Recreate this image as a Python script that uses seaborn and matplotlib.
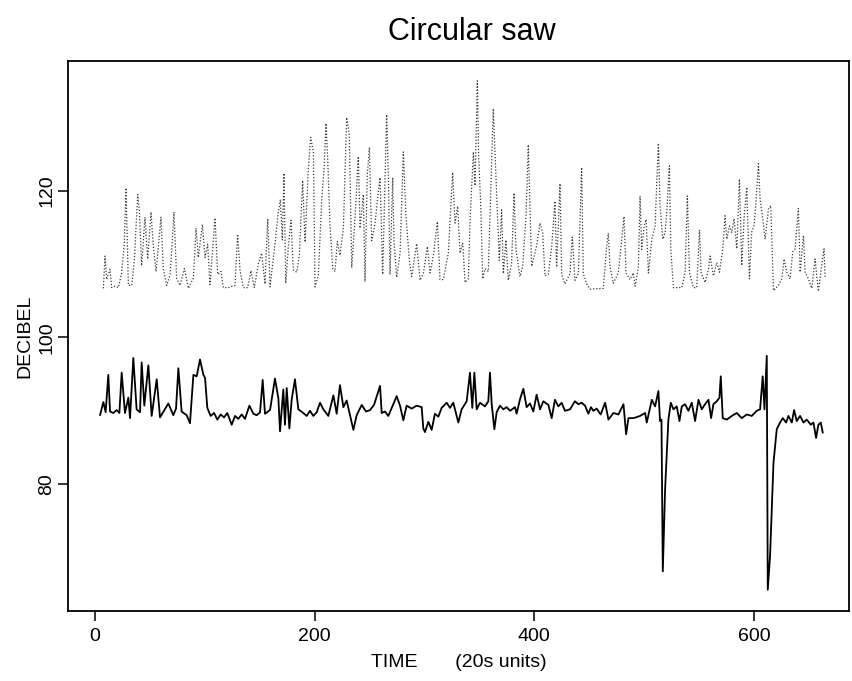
import matplotlib
matplotlib.use("Agg")
import matplotlib.pyplot as plt
import pandas as pd
import seaborn as sns

# lower trace (solid): time in 20s units, level in decibel
low_time = [4.6, 7.6, 9.7, 12.1, 13.7, 16.7, 19.7, 22.2, 24.3, 27.3, 30.4, 31.9, 34.9, 37.9,
            41.0, 42.5, 44.9, 48.6, 51.6, 56.2, 59.2, 62.8, 66.8, 71.3, 73.8, 75.9, 78.9, 83.5,
            86.5, 89.6, 92.6, 95.6, 98.7, 100.2, 102.3, 105.3, 108.4, 111.4, 114.5, 117.5, 120.5,
            124.5, 127.5, 130.5, 133.6, 136.6, 140.6, 144.2, 147.2, 150.3, 152.7, 154.8, 159.4,
            163.9, 167.0, 168.5, 171.5, 173.0, 174.6, 177.0, 179.1, 182.1, 185.2, 189.7, 192.8,
            195.8, 198.8, 201.9, 204.9, 208.0, 212.5, 217.1, 220.1, 223.1, 226.2, 229.2, 232.2,
            235.3, 238.3, 242.9, 246.8, 250.5, 254.1, 259.6, 261.1, 264.1, 267.1, 271.7, 274.7,
            277.8, 280.8, 283.8, 288.4, 292.9, 297.5, 299.0, 300.5, 303.6, 306.6, 309.6, 312.7,
            315.7, 320.3, 323.3, 326.3, 330.9, 333.9, 338.5, 341.5, 343.6, 345.5, 347.6, 350.6,
            355.2, 358.2, 359.7, 361.3, 363.7, 365.8, 368.8, 371.9, 374.9, 378.0, 382.5, 384.0,
            387.1, 390.1, 393.1, 396.2, 399.2, 402.2, 405.3, 408.3, 412.9, 415.9, 418.9, 422.0,
            425.0, 428.0, 432.6, 437.1, 440.2, 443.2, 446.3, 449.3, 451.7, 453.8, 456.9, 460.5,
            464.6, 467.6, 472.1, 476.7, 481.3, 483.7, 485.8, 490.4, 496.4, 501.0, 502.5, 507.1,
            510.1, 513.1, 514.6, 515.9, 517.1, 519.2, 522.2, 524.4, 526.8, 529.8, 532.3, 534.4,
            537.4, 540.4, 543.5, 546.5, 549.6, 552.6, 555.6, 558.7, 561.1, 563.2, 566.3, 568.7,
            569.9, 571.7, 575.4, 579.9, 584.5, 589.0, 593.6, 598.1, 602.7, 605.7, 608.1, 609.7,
            611.8, 612.7, 614.8, 617.9, 620.9, 623.9, 626.4, 629.4, 631.5, 634.6, 636.7, 639.1,
            642.1, 645.2, 648.2, 651.9, 654.3, 656.7, 658.8, 661.0, 662.8]
low_db = [89.4, 91.2, 89.8, 94.9, 89.9, 89.7, 90.1, 89.7, 95.2, 89.7, 91.8, 89.0, 97.2, 90.2,
          89.8, 96.6, 90.7, 96.2, 89.3, 94.3, 89.1, 90.0, 91.0, 89.4, 90.3, 95.8, 89.9, 89.4,
          88.3, 94.9, 94.7, 97.0, 94.9, 94.5, 90.4, 89.3, 89.7, 88.8, 89.5, 89.1, 89.7,
          88.1, 89.3, 88.9, 89.5, 88.9, 90.7, 89.6, 89.4, 89.8, 94.2, 89.6, 90.1,
          94.4, 91.7, 87.2, 92.9, 88.1, 93.1, 87.6, 91.5, 94.3, 90.2, 89.7, 89.3,
          90.0, 89.3, 89.8, 91.1, 90.2, 89.3, 92.1, 89.6, 93.5, 90.5, 91.4, 89.4,
          87.4, 89.4, 90.8, 89.9, 90.1, 90.8, 93.4, 89.7, 89.9, 89.3, 90.9, 92.0,
          90.7, 88.7, 90.7, 90.3, 90.7, 90.5, 87.6, 87.1, 88.5, 87.4, 89.6, 89.2,
          90.4, 91.1, 90.4, 91.1, 88.4, 90.2, 91.3, 95.2, 90.4, 95.2, 90.2, 91.1,
          90.6, 91.3, 95.2, 90.9, 87.5, 89.8, 90.7, 90.2, 90.5, 90.0, 90.5, 89.6,
          91.6, 93.0, 90.5, 91.0, 89.9, 92.2, 90.2, 91.3, 90.8, 89.0, 91.5, 90.6,
          91.1, 90.0, 90.2, 91.3, 90.9, 91.1, 90.7, 89.6, 90.5, 90.0, 90.3, 89.5,
          91.1, 88.8, 89.7, 89.5, 90.9, 86.8, 89.0, 89.0, 89.3, 89.7, 88.4, 91.5,
          90.6, 92.7, 88.6, 88.8, 68.1, 79.3, 88.8, 91.1, 90.2, 90.6, 88.6, 90.6,
          90.9, 90.0, 91.1, 88.6, 91.5, 90.2, 90.9, 91.5, 89.0, 90.9, 91.3, 91.8,
          94.7, 89.0, 88.8, 89.3, 89.7, 89.0, 89.5, 89.3, 90.0, 90.2, 94.7, 90.2,
          97.5, 65.6, 70.2, 82.9, 87.5, 88.4, 89.0, 88.4, 89.3, 88.4, 90.1, 88.6,
          89.3, 88.4, 88.8, 88.1, 88.4, 86.3, 88.1, 88.4, 87.0]

# upper trace (dotted)
up_time = [7.6, 9.1, 10.6, 13.7, 15.2, 18.2, 21.3, 24.3, 26.7, 28.2, 30.4, 33.4, 35.8, 38.9,
           40.4, 42.5, 45.5, 48.0, 51.0, 53.1, 55.6, 57.7, 60.1, 62.2, 65.3, 68.3, 69.8, 71.9,
           74.4, 77.4, 81.4, 85.0, 89.6, 92.0, 94.1, 97.8, 100.2, 102.6, 104.7, 109.3, 111.7,
           114.8, 116.9, 121.4, 127.5, 129.9, 132.1, 135.1, 139.0, 142.1, 145.1, 148.8, 151.8,
           154.8, 157.3, 159.4, 163.9, 166.4, 168.8, 170.6, 172.1, 173.7, 176.1, 178.5, 180.6,
           183.7, 186.1, 189.1, 191.3, 194.3, 196.4, 198.9, 200.4, 203.4, 206.4, 208.6, 210.4,
           211.9, 214.0, 216.5, 218.6, 220.7, 223.1, 226.2, 229.2, 231.6, 233.8, 236.8, 239.8,
           241.4, 244.4, 245.9, 248.0, 249.9, 252.0, 255.0, 257.1, 259.6, 262.0, 264.1, 265.6,
           267.2, 268.7, 271.1, 272.3, 274.7, 277.8, 280.8, 283.2, 286.3, 288.4, 293.0, 296.0,
           299.0, 302.7, 305.1, 308.1, 311.8, 314.2, 317.2, 321.8, 325.7, 327.9, 330.3, 332.4,
           334.9, 337.0, 340.0, 341.5, 344.6, 346.1, 348.2, 349.4, 351.3, 353.1, 355.2, 358.2,
           362.7, 365.8, 368.2, 370.3, 371.9, 374.3, 376.4, 379.4, 381.6, 383.4, 387.0, 389.5,
           392.5, 394.6, 396.1, 397.7, 402.2, 405.3, 407.7, 409.8, 412.8, 415.9, 418.9, 420.4,
           423.5, 425.0, 428.0, 432.6, 434.7, 437.1, 440.2, 443.2, 444.7, 447.8, 450.8, 462.9,
           466.0, 467.5, 469.0, 472.0, 476.6, 479.6, 481.8, 483.6, 487.2, 490.3, 491.9, 494.9,
           496.4, 497.9, 500.1, 501.9, 504.0, 507.1, 510.1, 511.6, 513.1, 514.6, 517.1, 519.2,
           520.7, 523.1, 524.4, 526.8, 534.4, 537.4, 539.5, 541.4, 545.0, 548.0, 550.5, 552.0,
           555.6, 558.7, 560.2, 563.2, 566.3, 568.7, 571.7, 573.8, 575.4, 577.8, 579.9, 582.0,
           584.5, 586.9, 589.0, 591.1, 593.6, 596.0, 598.1, 600.3, 602.1, 604.2, 605.7, 608.1,
           610.3, 613.3, 615.4, 617.9, 622.4, 625.5, 627.6, 630.0, 633.0, 635.5, 637.6, 640.6,
           642.2, 645.2, 646.7, 649.7, 652.8, 655.8, 658.8, 661.9, 664.0, 664.9]
up_db = [106.7, 111.1, 107.9, 109.3, 106.8, 107.0, 106.8, 108.8, 112.9, 120.4, 107.1, 107.1, 110.5, 119.5,
         117.3, 109.8, 116.4, 110.7, 117.1, 112.5, 109.0, 112.5, 116.4, 109.4, 107.1, 108.5, 111.7, 117.1,
         108.0, 107.1, 109.4, 106.7, 108.1, 114.9, 110.9, 115.4, 110.9, 112.7, 107.2, 116.3, 108.6,
         109.0, 106.8, 106.8, 107.1, 114.1, 109.1, 106.8, 106.8, 109.1, 106.8, 110.1, 111.5,
         107.3, 116.2, 106.9, 112.7, 116.5, 118.8, 113.3, 122.4, 107.4, 112.4, 116.0, 109.2,
         108.9, 111.2, 121.4, 113.0, 123.0, 127.3, 125.3, 106.9, 108.5, 118.5, 123.0, 129.2,
         124.5, 115.3, 109.4, 109.0, 113.1, 111.2, 114.9, 130.0, 127.7, 109.5, 116.3, 124.7,
         114.9, 119.5, 107.6, 122.2, 125.9, 113.2, 115.5, 118.6, 121.8, 108.6, 121.4, 130.4,
         121.8, 108.6, 121.8, 113.2, 108.2, 111.4, 125.3, 116.5, 110.5, 108.3, 112.8, 107.8,
         108.7, 112.4, 108.8, 111.1, 115.8, 107.9, 107.9, 111.5, 122.5, 115.6, 117.9, 111.5,
         112.9, 107.5, 108.0, 115.7, 125.3, 120.7, 135.0, 124.8, 118.0, 108.0, 109.4, 109.0,
         131.2, 119.6, 110.5, 117.4, 108.7, 113.3, 107.8, 110.1, 119.7, 112.0, 108.3, 109.7,
         116.5, 126.3, 117.9, 109.7, 112.5, 115.6, 114.3, 108.4, 108.6, 112.3, 118.6, 109.6,
         121.0, 108.6, 107.3, 108.7, 113.7, 107.8, 108.7, 123.2, 108.7, 107.3, 106.6, 106.7,
         112.4, 114.2, 109.7, 107.4, 108.8, 113.3, 116.5, 108.8, 107.9, 108.8, 107.0, 109.7,
         119.3, 112.0, 115.2, 116.1, 108.8, 113.4, 115.2, 121.1, 126.5, 117.9, 113.4, 114.3,
         117.0, 123.4, 112.0, 106.8, 106.8, 108.8, 119.3, 108.8, 106.8, 106.8, 114.7, 108.8,
         107.5, 109.3, 111.1, 108.4, 110.2, 108.9, 112.0, 116.6, 113.4, 115.2, 114.3, 116.2,
         112.1, 121.6, 109.8, 116.2, 120.5, 108.0, 114.4, 115.3, 118.9, 123.7, 118.9, 116.2,
         113.4, 117.5, 118.0, 106.4, 107.1, 108.0, 110.7, 108.9, 108.0, 111.7, 112.1, 117.6,
         108.9, 113.9, 108.9, 108.0, 106.7, 110.7, 106.3, 109.9, 112.1, 108.0]

x_ticks = [0, 200, 400, 600]
y_ticks = [80, 100, 120]

low_df = pd.DataFrame({"time": low_time, "db": low_db})
up_df = pd.DataFrame({"time": up_time, "db": up_db})

sns.set_theme(style="ticks")
plt.rcParams["font.family"] = ["Liberation Sans", "DejaVu Sans"]
plt.rcParams["text.color"] = "black"
plt.rcParams["axes.labelcolor"] = "black"

fig = plt.figure(figsize=(8.52, 6.81), dpi=100)
ax = fig.add_axes([0.0798, 0.1028, 0.9167, 0.8076])

sns.lineplot(data=up_df, x="time", y="db", ax=ax, sort=False, color="#3a3a3a",
             linewidth=0.9, linestyle=(0, (1, 1.5)))
sns.lineplot(data=low_df, x="time", y="db", ax=ax, sort=False, color="black",
             linewidth=1.3)

ax.set_xlim(-24.6, 686.7)
ax.set_ylim(62.7, 137.7)
ax.set_xticks(x_ticks)
ax.set_yticks(y_ticks)
ax.set_yticklabels([str(v) for v in y_ticks], rotation=90, va="center")
ax.tick_params(axis="both", direction="out", length=7, width=1.1, labelsize=14,
               color="black", labelcolor="black")
ax.tick_params(axis="x", pad=5)
ax.tick_params(axis="y", pad=2)
for s in ax.spines.values():
    s.set_visible(True)
    s.set_linewidth(1.3)
    s.set_color("black")

ax.set_xlabel("TIME       (20s units)", fontsize=14, labelpad=7)
ax.set_ylabel("DECIBEL", fontsize=14, labelpad=4)
fig.text(472 / 852, 1 - 32 / 681, "Circular saw", ha="center", va="center", fontsize=22)

fig.savefig("out.png", dpi=100)
